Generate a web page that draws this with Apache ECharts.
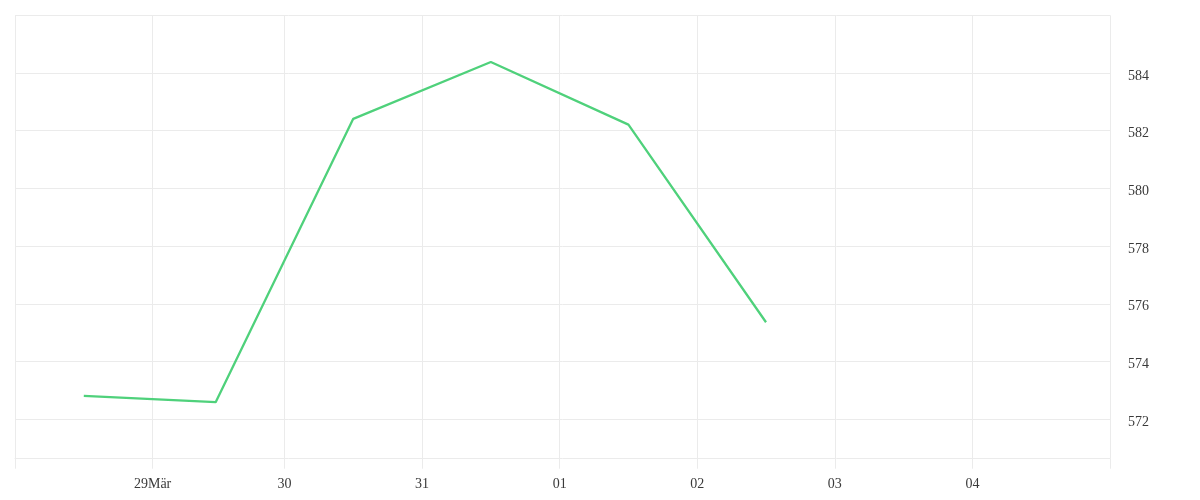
<!DOCTYPE html>
<html>
<head>
<meta charset="utf-8">
<script src="https://cdn.jsdelivr.net/npm/echarts@6/dist/echarts.min.js"></script>
<style>
html,body{margin:0;padding:0;background:#fff;}
#chart{width:1200px;height:500px;}
</style>
</head>
<body>
<div id="chart"></div>
<script>
// Data (local time Europe/Berlin, DST switch on 29 March)
const pointDates = ['2020-03-28T12:00:00+01:00','2020-03-29T12:00:00+02:00','2020-03-30T12:00:00+02:00','2020-03-31T12:00:00+02:00','2020-04-01T12:00:00+02:00','2020-04-02T12:00:00+02:00'];
const values = [572.81, 572.59, 582.41, 584.38, 582.21, 575.36];
const dayBoundaries = ['2020-03-28T00:00:00+01:00','2020-03-29T00:00:00+01:00','2020-03-30T00:00:00+02:00','2020-03-31T00:00:00+02:00','2020-04-01T00:00:00+02:00','2020-04-02T00:00:00+02:00','2020-04-03T00:00:00+02:00','2020-04-04T00:00:00+02:00','2020-04-05T00:00:00+02:00'];
const dayLabels = ['', '29Mär', '30', '31', '01', '02', '03', '04', ''];
const yLabelValues = [572, 574, 576, 578, 580, 582, 584];
const yLineValues = [572, 574, 576, 578, 580, 582, 584, 586];
const yMin = 570.63, yMax = 586;

const ts = s => new Date(s).getTime();
const tickTs = dayBoundaries.map(ts);
const labelMap = {};
tickTs.forEach((t, i) => { labelMap[t] = dayLabels[i]; });
const labelTs = tickTs.filter((t, i) => dayLabels[i] !== '');
const seriesData = pointDates.map((d, i) => [ts(d), values[i]]);

const font = '"Liberation Serif", "DejaVu Serif", serif';
const chart = echarts.init(document.getElementById('chart'));
chart.setOption({
  animation: false,
  grid: { left: 15, right: 90, top: 15.3, bottom: 41.3, containLabel: false },
  xAxis: {
    type: 'value',
    min: tickTs[0],
    max: tickTs[tickTs.length - 1],
    axisLine: { show: true, lineStyle: { color: '#ebebeb', width: 1 } },
    axisTick: { show: true, length: 10, customValues: tickTs, lineStyle: { color: '#ebebeb' } },
    splitLine: { show: true, lineStyle: { color: '#ebebeb', width: 1 } },
    axisLabel: {
      customValues: labelTs,
      formatter: v => labelMap[v] || '',
      color: '#3a3a3a', fontFamily: font, fontSize: 14, margin: 19
    }
  },
  yAxis: {
    type: 'value',
    position: 'right',
    min: yMin,
    max: yMax,
    axisLine: { show: false },
    axisTick: { show: false, customValues: yLineValues },
    splitLine: { show: true, lineStyle: { color: '#ebebeb', width: 1 } },
    axisLabel: {
      customValues: yLabelValues,
      color: '#3a3a3a', fontFamily: font, fontSize: 14, margin: 18,
      verticalAlign: 'top', lineHeight: 6
    }
  },
  series: [{
    type: 'line',
    data: seriesData,
    showSymbol: false,
    symbol: 'none',
    lineStyle: { color: '#4fd17b', width: 2.3 },
    itemStyle: { color: '#4fd17b' }
  }]
});
</script>
</body>
</html>
